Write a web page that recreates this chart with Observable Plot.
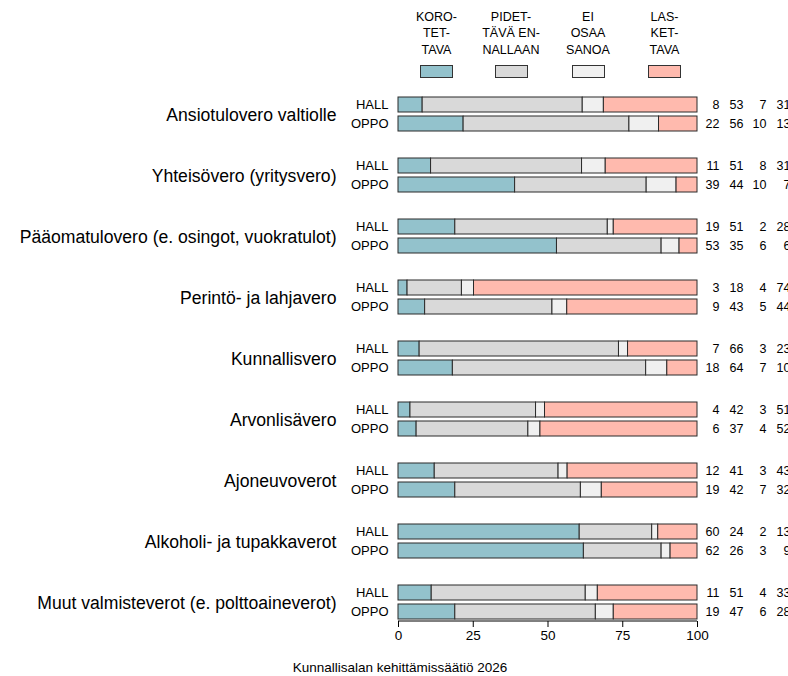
<!DOCTYPE html>
<html>
<head>
<meta charset="utf-8">
<script src="https://cdn.jsdelivr.net/npm/d3@7"></script>
<script src="https://cdn.jsdelivr.net/npm/@observablehq/plot@0.6"></script>
<style>
  html, body { margin: 0; padding: 0; background: #fff; }
  #wrap { position: relative; width: 788px; height: 676px; font-family: "Liberation Sans", Arial, Helvetica, sans-serif; color: #000; overflow: hidden; }
  #chart { position: absolute; left: 0; top: 0; }
  .lg-text { position: absolute; width: 90px; text-align: center; font-size: 12.5px; line-height: 16.5px; top: 8.5px; }
  .lg-sw { position: absolute; width: 33px; height: 13px; top: 65px; box-sizing: border-box; border: 1px solid #333; }
  #caption { position: absolute; top: 660px; left: 0; width: 800px; text-align: center; font-size: 13.5px; }
</style>
</head>
<body>
<div id="wrap">
  <div id="chart"></div>
  <div id="legend"></div>
  <div id="caption">Kunnallisalan kehittämissäätiö 2026</div>
</div>
<script>
const taxes = [
  "Ansiotulovero valtiolle",
  "Yhteisövero (yritysvero)",
  "Pääomatulovero (e. osingot, vuokratulot)",
  "Perintö- ja lahjavero",
  "Kunnallisvero",
  "Arvonlisävero",
  "Ajoneuvoverot",
  "Alkoholi- ja tupakkaverot",
  "Muut valmisteverot (e. polttoaineverot)"
];
const groups = ["HALL", "OPPO"];
const categories = ["KOROTETTAVA", "PIDETTÄVÄ ENNALLAAN", "EI OSAA SANOA", "LASKETTAVA"];
const legendLines = [["KORO-", "TET-", "TAVA"], ["PIDET-", "TÄVÄ EN-", "NALLAAN"], ["EI", "OSAA", "SANOA"], ["LAS-", "KET-", "TAVA"]];
const colors = ["#93c2cc", "#d9d9d9", "#f0f0f0", "#ffbaae"];
const legendCenters = [436.5, 511, 588, 664.5];

const hallKorotettava = [8, 11, 19, 3, 7, 4, 12, 60, 11];
const hallPidettava   = [53, 51, 51, 18, 66, 42, 41, 24, 51];
const hallEiOsaa      = [7, 8, 2, 4, 3, 3, 3, 2, 4];
const hallLaskettava  = [31, 31, 28, 74, 23, 51, 43, 13, 33];
const oppoKorotettava = [22, 39, 53, 9, 18, 6, 19, 62, 19];
const oppoPidettava   = [56, 44, 35, 43, 64, 37, 42, 26, 47];
const oppoEiOsaa      = [10, 10, 6, 5, 7, 4, 7, 3, 6];
const oppoLaskettava  = [13, 7, 6, 44, 10, 52, 32, 9, 28];

const series = {
  HALL: [hallKorotettava, hallPidettava, hallEiOsaa, hallLaskettava],
  OPPO: [oppoKorotettava, oppoPidettava, oppoEiOsaa, oppoLaskettava]
};

const rows = [];
const labels = [];
taxes.forEach((tax, i) => {
  groups.forEach(g => {
    const vals = series[g].map(s => s[i]);
    labels.push({tax, group: g, vals});
    categories.forEach((cat, k) => rows.push({tax, group: g, cat, value: vals[k]}));
  });
});

const colDx = [22, 46, 69, 93];

const chart = Plot.plot({
  width: 788,
  height: 650,
  marginLeft: 398,
  marginRight: 91,
  marginTop: 69,
  marginBottom: 2,
  style: {fontFamily: "'Liberation Sans', Arial, Helvetica, sans-serif", fontSize: "13px", background: "transparent", color: "#000", overflow: "visible"},
  x: {domain: [0, 1], label: null},
  y: {domain: groups, paddingInner: 0.205, paddingOuter: 0, label: null},
  fy: {domain: taxes, paddingInner: 0.43, paddingOuter: 0.43, label: null},
  color: {domain: categories, range: colors},
  marks: [
    Plot.barX(rows, Plot.stackX({
      x: "value", y: "group", fy: "tax", fill: "cat", z: "cat",
      offset: "normalize", order: categories,
      stroke: "#2a2a2a", strokeWidth: 1
    })),
    Plot.ruleY([labels[labels.length - 1]], {
      y: "group", fy: "tax", x1: 0, x2: 1, dy: 9, stroke: "#000", strokeWidth: 1
    }),
    Plot.axisX({
      ticks: [0, 0.25, 0.5, 0.75, 1], tickFormat: d => String(Math.round(d * 100)),
      tickSize: 6, tickPadding: 3, dy: 1, fontSize: 13.5, label: null, stroke: "#000"
    }),
    Plot.axisY({tickSize: 0, tickPadding: 10, fontSize: 13, label: null}),
    Plot.axisFy({anchor: "left", tickSize: 0, tickPadding: 62, fontSize: 17.6, label: null}),
    ...colDx.map((dx, k) => Plot.text(labels, {
      y: "group", fy: "tax", frameAnchor: "right", dx,
      text: d => String(d.vals[k]), textAnchor: "end", fontSize: 12.5, fill: "#000"
    }))
  ]
});
document.getElementById("chart").appendChild(chart);

const legend = document.getElementById("legend");
categories.forEach((cat, i) => {
  const t = document.createElement("div");
  t.className = "lg-text";
  t.style.left = (legendCenters[i] - 45) + "px";
  t.innerHTML = legendLines[i].join("<br>");
  legend.appendChild(t);
  const s = document.createElement("div");
  s.className = "lg-sw";
  s.style.left = (legendCenters[i] - 16.5) + "px";
  s.style.background = colors[i];
  legend.appendChild(s);
});
</script>
</body>
</html>
